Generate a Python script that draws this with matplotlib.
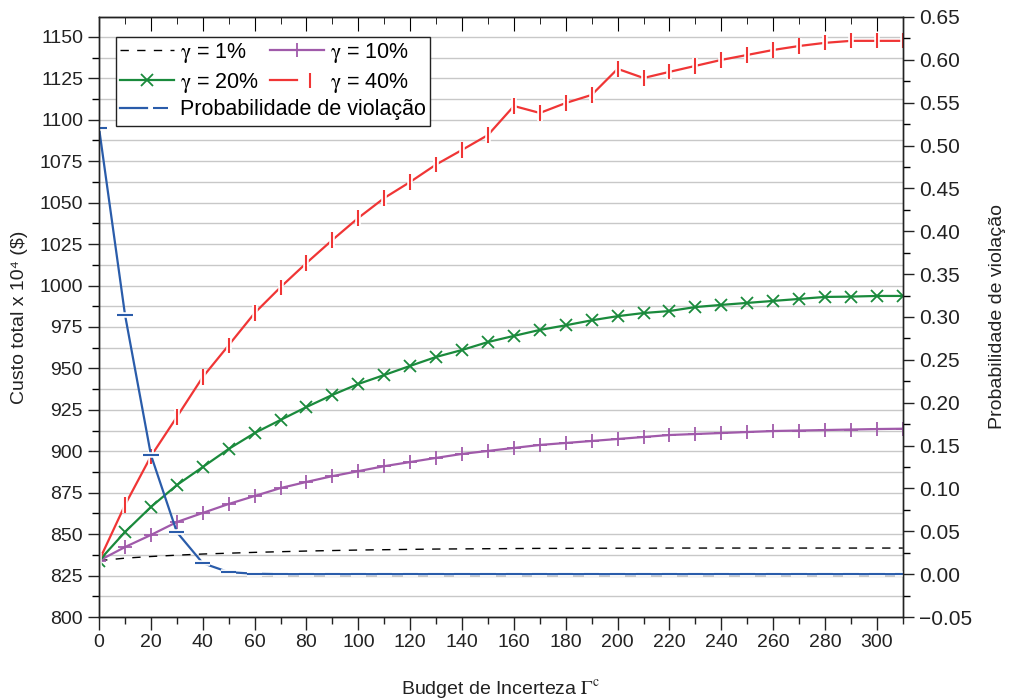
import matplotlib
matplotlib.use("Agg")
import matplotlib.pyplot as plt
import matplotlib.patheffects as pe
from matplotlib.patches import Rectangle
from matplotlib.ticker import MultipleLocator, FuncFormatter
from matplotlib.legend_handler import HandlerTuple

plt.rcParams['font.family'] = ['Liberation Sans', 'DejaVu Sans']
plt.rcParams['mathtext.fontset'] = 'stix'

# budget de incerteza
budget = list(range(0, 320, 10))

# custo total (x 10^4 $) para cada gamma
custo_1 = [834, 835.5, 836.5, 837.3, 838, 838.5, 839, 839.4, 839.8, 840.1,
           840.4, 840.6, 840.8, 841.0, 841.1, 841.2, 841.3, 841.4, 841.4, 841.5,
           841.5, 841.5, 841.6, 841.6, 841.6, 841.6, 841.6, 841.6, 841.6, 841.6,
           841.6, 841.6]
custo_10 = [834, 842.2, 849.5, 857.3, 862.8, 868.2, 873, 877.8, 881.5, 885,
            888, 891, 893.5, 896, 898.4, 900.2, 902, 903.8, 905, 906.2,
            907.4, 908.6, 909.8, 910.4, 911, 911.6, 912.2, 912.5, 912.8, 913.1,
            913.4, 913.6]
custo_20 = [834, 851.3, 866.4, 879.6, 890.5, 901.4, 911, 918.9, 926.7, 934,
            940.6, 946, 951.5, 956.9, 961.1, 965.9, 969.6, 973.2, 976, 979,
            981.5, 983.4, 984.6, 987, 988.3, 989.5, 990.7, 991.9, 993.1, 993.3,
            993.7, 993.7]
custo_40 = [834, 867.6, 897, 920.7, 944.8, 964, 983.4, 999, 1013.6, 1027.5,
            1040.8, 1052.8, 1062.5, 1073, 1081.8, 1090.8, 1108.3, 1104.1, 1110.1, 1115,
            1130.7, 1125.2, 1128.9, 1132.5, 1136.1, 1139.1, 1142.1, 1144.5, 1146.4, 1147.6,
            1147.6, 1147.6]

# probabilidade de violacao
prob = [0.52, 0.3026, 0.139, 0.049, 0.0128, 0.0023, 0.0005] + [0.0] * 25

fig = plt.figure(figsize=(10.11, 6.99), dpi=100)
ax = fig.add_axes([0.098, 0.1173, 0.795, 0.8584])
ax2 = ax.twinx()

gap = [pe.withStroke(linewidth=4, foreground='white')]

l1, = ax.plot(budget, custo_1, color='black', lw=1.0, dashes=(6, 6))

l10, = ax.plot(budget, custo_10, color='#a05aaa', lw=1.6,
               marker='+', ms=10, mew=1.3)

l20, = ax.plot(budget, custo_20, color='#1a8a3c', lw=1.6,
               marker='x', ms=9, mew=1.3)

l40, = ax.plot(budget, custo_40, color='#f03535', lw=1.6)
m40, = ax.plot(budget, custo_40, ls='none', color='#f03535',
               marker='|', ms=11, mew=1.5, path_effects=gap)

lp, = ax2.plot(budget, prob, color='#2a5caa', lw=1.6)
mp, = ax2.plot(budget, prob, ls='none', color='#2a5caa',
               marker='_', ms=11, mew=1.5, path_effects=gap)

ax.set_xlim(0, 310)
ax.set_ylim(800, 1162)
ax2.set_ylim(-0.05, 0.65)

ax.xaxis.set_major_locator(MultipleLocator(20))
ax.xaxis.set_minor_locator(MultipleLocator(10))
ax.yaxis.set_major_locator(MultipleLocator(25))
ax.yaxis.set_minor_locator(MultipleLocator(12.5))
ax2.yaxis.set_major_locator(MultipleLocator(0.05))
ax2.yaxis.set_minor_locator(MultipleLocator(0.025))
ax2.yaxis.set_major_formatter(FuncFormatter(
    lambda v, p: ('%.2f' % v).replace('-', '\u2212') if abs(v) > 1e-9 else '0.00'))

ax.grid(True, which='both', axis='y', color='#c8c8c8', lw=1.0)
ax.set_axisbelow(True)

ax.tick_params(axis='x', which='both', bottom=True, top=False,
               labelsize=14, colors='#222222')
ax.tick_params(axis='x', which='major', length=9, width=1)
ax.tick_params(axis='x', which='minor', length=5, width=1)
ax.tick_params(axis='y', which='major', direction='out', length=8, width=1,
               labelsize=14, colors='#222222')
ax.tick_params(axis='y', which='minor', direction='out', length=5, width=1)
ax2.tick_params(axis='y', which='major', direction='out', length=8, width=1,
                labelsize=15, colors='#222222')
ax2.tick_params(axis='y', which='minor', direction='out', length=5, width=1)

# ticks on the top spine point inward
sec = ax.secondary_xaxis('top')
sec.xaxis.set_major_locator(MultipleLocator(20))
sec.xaxis.set_minor_locator(MultipleLocator(10))
sec.tick_params(axis='x', which='major', direction='in', length=10, labeltop=False)
sec.tick_params(axis='x', which='minor', direction='in', length=5)

for a in (ax, ax2):
    for s in a.spines.values():
        s.set_color('#222222')
        s.set_linewidth(1.0)

ax.set_xlabel('Budget de Incerteza $\\Gamma^{\\mathrm{c}}$', fontsize=14,
              labelpad=19, color='#222222')
ax.set_ylabel('Custo total x 10\u2074 ($)', fontsize=14, labelpad=8, color='#222222')
ax2.set_ylabel('Probabilidade de violação', fontsize=14, labelpad=12, color='#222222')

# legend: two rows of gamma entries, then the probability entry, in one box
box = Rectangle((0.021, 0.818), 0.391, 0.149, transform=ax2.transAxes,
                facecolor='white', edgecolor='#222222', lw=1.0, zorder=4)
ax2.add_patch(box)

tmap = {tuple: HandlerTuple(ndivide=None, pad=0)}
common = dict(fontsize=15.5, numpoints=1, handlelength=2.5, handletextpad=0.3,
              columnspacing=0.5, labelspacing=0.28, borderpad=0,
              borderaxespad=0, frameon=False, handler_map=tmap)

leg1 = ax2.legend([l1, l20, l10, (l40, m40)],
                  ['$\\mathrm{\\gamma}$ = 1%', '$\\mathrm{\\gamma}$ = 20%',
                   '$\\mathrm{\\gamma}$ = 10%', '$\\mathrm{\\gamma}$ = 40%'],
                  ncol=2, loc='upper left', bbox_to_anchor=(0.026, 0.96),
                  **common)
leg1.set_zorder(5)
ax2.add_artist(leg1)

leg2 = ax2.legend([(lp, mp)], ['Probabilidade de violação'],
                  loc='upper left', bbox_to_anchor=(0.026, 0.863), **common)
leg2.set_zorder(5)

fig.savefig('out.png', dpi=100)
